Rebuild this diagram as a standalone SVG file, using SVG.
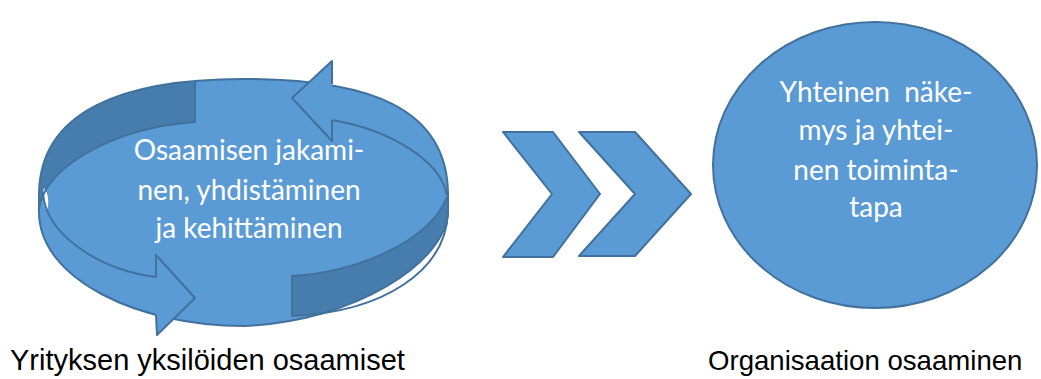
<svg xmlns="http://www.w3.org/2000/svg" width="1041" height="379" viewBox="0 0 1041 379">
<style>
.lt{fill:#5B9BD5}
.dk{fill:#477DAC}
.ln{fill:none;stroke:#41719C;stroke-width:2;stroke-linejoin:round}
.sh{fill:#5B9BD5;stroke:#41719C;stroke-width:2;stroke-linejoin:round}
.in{font-family:Lato,"Open Sans",sans-serif;font-size:28px;fill:#FFFFFF;text-anchor:middle}
.lb{font-family:"Liberation Sans",Arial,sans-serif;fill:#000000}
</style>
<defs>
<clipPath id="silClip">
<path d="M39,195 C39,110 125,79 243,79 C370,79 448,108 448,195 L448,212 C446,262 355,322 243,326 C140,326 39,280 39,212 Z"/>
</clipPath>
</defs>
<rect width="1041" height="379" fill="#FFFFFF"/>
<g id="cycle">
<path class="lt" d="M39,195 C39,110 125,79 243,79 C370,79 448,108 448,195 L448,212 C446,262 355,322 243,326 C140,326 39,280 39,212 Z"/>
<g clip-path="url(#silClip)">
<path class="dk" d="M195,60 L195,122 C110,128 42,170 39,210 L20,210 L20,60 Z"/>
<path class="dk" d="M292,316 L292,276 C360,272 430,240 448,197 L470,197 L470,212 L448,212 C446,270 385,312 292,316 Z"/>
</g>
<path d="M44,188 C49,194 49,204 47,211 C43,205 42,196 44,188 Z" fill="#FFFFFF"/>
<path class="ln" d="M39,195 C39,110 125,79 243,79 C370,79 448,108 448,195 L448,212 C446,262 355,322 243,326 C140,326 39,280 39,212 Z"/>
<path class="ln" d="M195,82 L195,122 C110,128 42,170 39,210"/>
<path class="ln" d="M292,316 L292,276 C360,272 430,240 447,197"/>
<path class="ln" d="M448,212 C446,270 385,312 292,316"/>
<path class="ln" d="M43,192 C45,235 100,270 156,277"/>
<path class="ln" d="M332,120 C390,130 440,160 447,195"/>
<path class="lt" d="M332,84 L332,61 L292,98 L332,141 L332,120 Z"/>
<polyline class="ln" points="332,84 332,61 292,98 332,141 332,120"/>
<path class="lt" d="M156,277 L156,255 L195,298 L157,335 L156,315 Z"/>
<polyline class="ln" points="156,277 156,255 195,298 157,335 156,315"/>
<text class="in" x="249" y="160">Osaamisen jakami-</text>
<text class="in" x="249" y="200">nen, yhdistäminen</text>
<text class="in" x="249" y="238">ja kehittäminen</text>
</g>
<g id="chevrons">
<polygon class="sh" points="503,132 553,132 600,194 553,257 503,257 552,194"/>
<polygon class="sh" points="579,132 635,132 691,194 635,256 579,256 635,194"/>
</g>
<g id="vision">
<ellipse class="sh" cx="875" cy="165" rx="162" ry="143"/>
<text class="in" x="876" y="102" xml:space="preserve">Yhteinen  näke-</text>
<text class="in" x="876" y="140">mys ja yhtei-</text>
<text class="in" x="876" y="180">nen toiminta-</text>
<text class="in" x="876" y="217">tapa</text>
</g>
<g id="labels">
<text class="lb" x="10" y="370" font-size="29">Yrityksen yksilöiden osaamiset</text>
<text class="lb" x="708" y="370" font-size="27.6">Organisaation osaaminen</text>
</g>
</svg>
